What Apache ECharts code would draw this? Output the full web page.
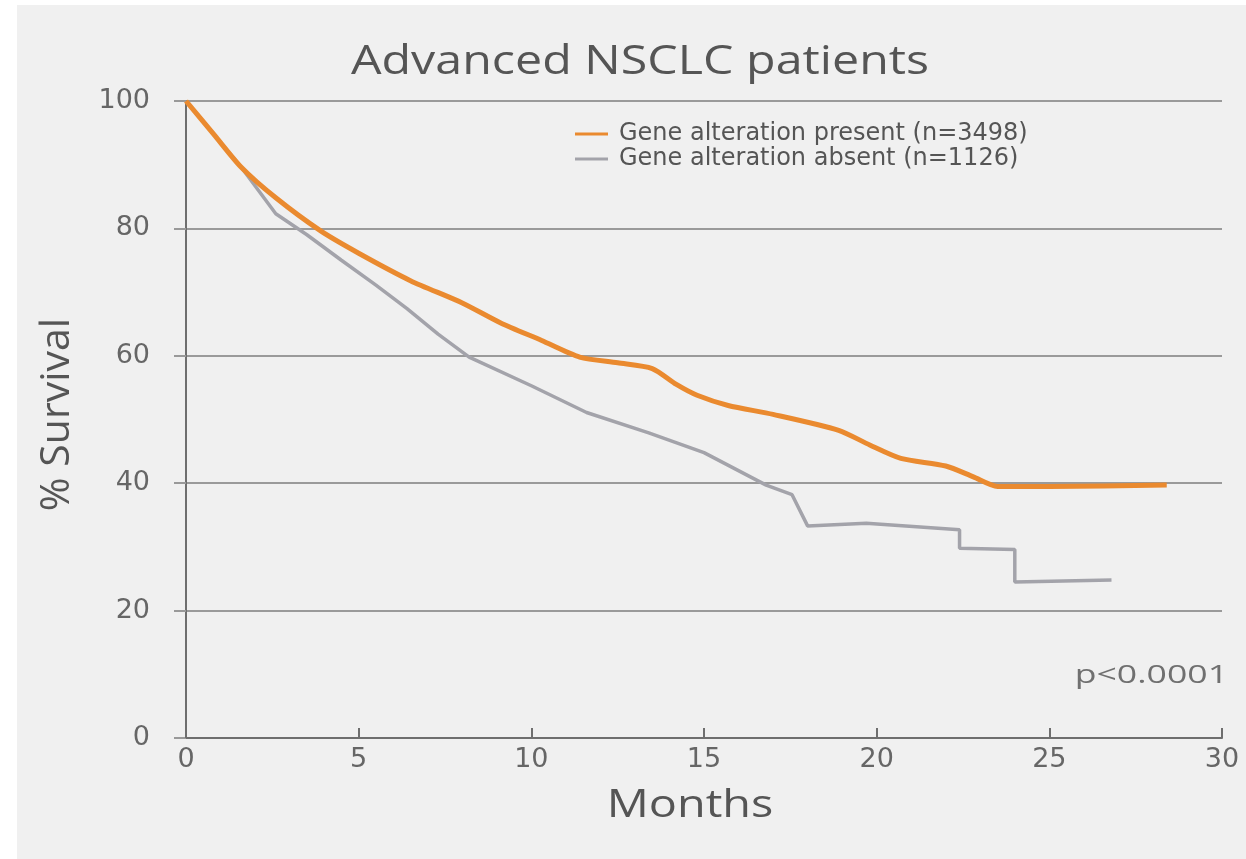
<!DOCTYPE html>
<html>
<head>
<meta charset="utf-8">
<title>Advanced NSCLC patients</title>
<script src="https://cdn.jsdelivr.net/npm/echarts@6/dist/echarts.min.js"></script>
<style>
  html, body { margin: 0; padding: 0; background: #ffffff; }
  #chart { position: absolute; left: 17px; top: 5px; width: 1229px; height: 854px; background: #f0f0f0; }
</style>
</head>
<body>
<div id="chart"></div>
<script>
// Kaplan-Meier survival, months vs % survival
const titleText = 'Advanced NSCLC patients';
const xAxisTitle = 'Months';
const yAxisTitle = '% Survival';
const seriesNames = ['Gene alteration present (n=3498)', 'Gene alteration absent (n=1126)'];
const xTicks = [0, 5, 10, 15, 20, 25, 30];
const yTicks = [0, 20, 40, 60, 80, 100];

// [month, % survival]
const presentCurve = [
  [0, 100], [0.8, 94.8], [1.6, 89.6], [2.6, 84.8], [3.9, 79.6], [5, 76.1],
  [6.5, 71.8], [8, 68.3], [9.1, 65.2], [10.3, 62.4], [11.4, 59.8], [12.5, 58.9],
  [13.5, 58], [14.2, 55.5], [14.8, 53.8], [15.7, 52.2], [17, 50.8], [18.9, 48.3],
  [19.8, 46], [20.7, 43.9], [22, 42.7], [22.8, 41], [23.5, 39.5], [25, 39.5],
  [28.4, 39.7]
];
const absentCurve = [
  [0, 100], [0.8, 94.8], [1.6, 89.6], [2.6, 82.3], [3.5, 79], [4.5, 75],
  [5.5, 71.1], [6.4, 67.4], [7.3, 63.4], [8.2, 59.8], [10, 55.3], [11.6, 51.1],
  [13.4, 47.9], [15, 44.8], [16.8, 39.7], [17.55, 38.2], [18, 33.3], [19.7, 33.7],
  [22.4, 32.7], [22.4, 29.8], [24, 29.6], [24, 24.5], [26.8, 24.8]
];
const pValueText = 'p<0.0001';

const colors = ['#ea8a2f', '#a3a3aa'];
const FONT = '"Open Sans", sans-serif';
const WIDE = '"DejaVu Sans", sans-serif';

const chart = echarts.init(document.getElementById('chart'), null, { renderer: 'canvas' });

chart.setOption({
  backgroundColor: '#f0f0f0',
  animation: false,
  color: colors,
  grid: { left: 169, right: 24, top: 96, bottom: 121 },
  legend: {
    orient: 'vertical',
    left: 553, top: 112,
    itemWidth: 33, itemHeight: 3, itemGap: 1,
    icon: 'rect',
    textStyle: { fontFamily: WIDE, fontSize: 24, color: '#555', padding: [0, 0, 0, 6] },
    data: seriesNames
  },
  graphic: [
    {
      type: 'text', x: 623, y: 57, scaleX: 1.18,
      style: { text: titleText, font: '41px ' + FONT, fill: '#555',
        textAlign: 'center', textVerticalAlign: 'middle' }
    },
    {
      type: 'text', x: 673, y: 801, scaleX: 1.2,
      style: { text: xAxisTitle, font: '39px ' + FONT, fill: '#555',
        textAlign: 'center', textVerticalAlign: 'middle' }
    },
    {
      type: 'text', x: 1211, y: 671, scaleX: 1.37,
      style: { text: pValueText, font: '26px ' + FONT, fill: '#707070',
        textAlign: 'right', textVerticalAlign: 'middle' }
    }
  ],
  xAxis: {
    type: 'value', min: 0, max: 30, interval: 5,
    axisLine: { show: true, onZero: false, lineStyle: { color: '#6e6e6e', width: 2 } },
    axisTick: { show: true, inside: true, length: 10, lineStyle: { color: '#6e6e6e', width: 2 } },
    axisLabel: { fontFamily: WIDE, fontSize: 27, color: '#666', margin: 8,
      formatter: v => xTicks.includes(v) ? String(v) : '' },
    splitLine: { show: false }
  },
  yAxis: {
    type: 'value', min: 0, max: 100, interval: 20,
    name: yAxisTitle, nameLocation: 'middle', nameGap: 108, nameRotate: 90,
    nameTextStyle: { fontFamily: FONT, fontSize: 41, color: '#555', padding: [0, 0, 0, 10] },
    axisLine: { show: true, lineStyle: { color: '#6e6e6e', width: 2 } },
    axisTick: { show: true, length: 12, lineStyle: { color: '#999', width: 2 } },
    axisLabel: { fontFamily: WIDE, fontSize: 27, color: '#666', margin: 36,
      formatter: v => yTicks.includes(v) ? String(v) : '' },
    splitLine: { show: true, lineStyle: { color: '#9a9a9a', width: 2 } }
  },
  series: [
    {
      name: seriesNames[0], type: 'line', data: presentCurve,
      showSymbol: false, smooth: 0.25,
      lineStyle: { color: colors[0], width: 5 }, z: 3
    },
    {
      name: seriesNames[1], type: 'line', data: absentCurve,
      showSymbol: false, smooth: false,
      lineStyle: { color: colors[1], width: 3.5 }, z: 2
    }
  ]
});
</script>
</body>
</html>
